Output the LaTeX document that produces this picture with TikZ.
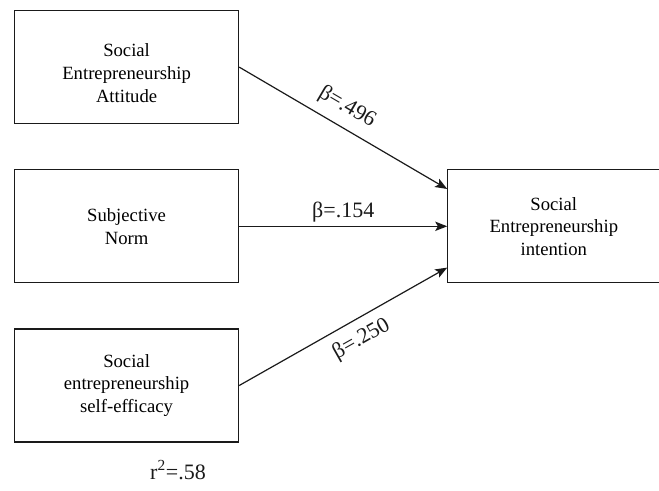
\documentclass[tikz,border=0pt]{standalone}
\usepackage{fontspec}
\setmainfont{Liberation Serif}
\usetikzlibrary{arrows.meta,positioning}
\definecolor{ink}{HTML}{1A1A1A}
\tikzset{
  box/.style={draw=ink, line width=0.9pt, align=center, inner sep=0pt,
    minimum width=168pt, minimum height=84.75pt, font=\fontsize{14}{17}\selectfont},
  effect/.style={-{Stealth[length=9pt, width=7pt, inset=2pt]}, draw=ink, line width=0.9pt},
  coef/.style={font=\fontsize{16.5}{20}\selectfont, inner sep=2pt, text=ink},
}

\begin{document}
\begin{tikzpicture}[x=0.75pt, y=-0.75pt, node distance=33.75pt and 156pt]
  \useasboundingbox (0,0) rectangle (659,490);

  \node[box, anchor=north west, text height=52.5pt] (attitude) at (14,10) {Social\\ Entrepreneurship\\ Attitude};
  \node[box, below=of attitude] (norm) {Subjective\\ Norm};
  \node[box, below=of norm] (efficacy) {Social\\ entrepreneurship\\ self-efficacy};
  \node[box, minimum width=159pt, right=of norm] (intention) {Social\\ Entrepreneurship\\ intention};

  \node[coef] (rsq) at (178,470) {r\textsuperscript{2}=.58};

  \draw[effect] (attitude.east) -- node[coef, sloped, above=5pt, pos=0.47] {β=.496} ([yshift=28pt]intention.west);
  \draw[effect] (norm.east) -- node[coef, above=1pt] {β=.154} (intention.west);
  \draw[effect] (efficacy.east) -- node[coef, sloped, below=5pt, pos=0.54] {β=.250} ([yshift=-31pt]intention.west);
\end{tikzpicture}
\end{document}
